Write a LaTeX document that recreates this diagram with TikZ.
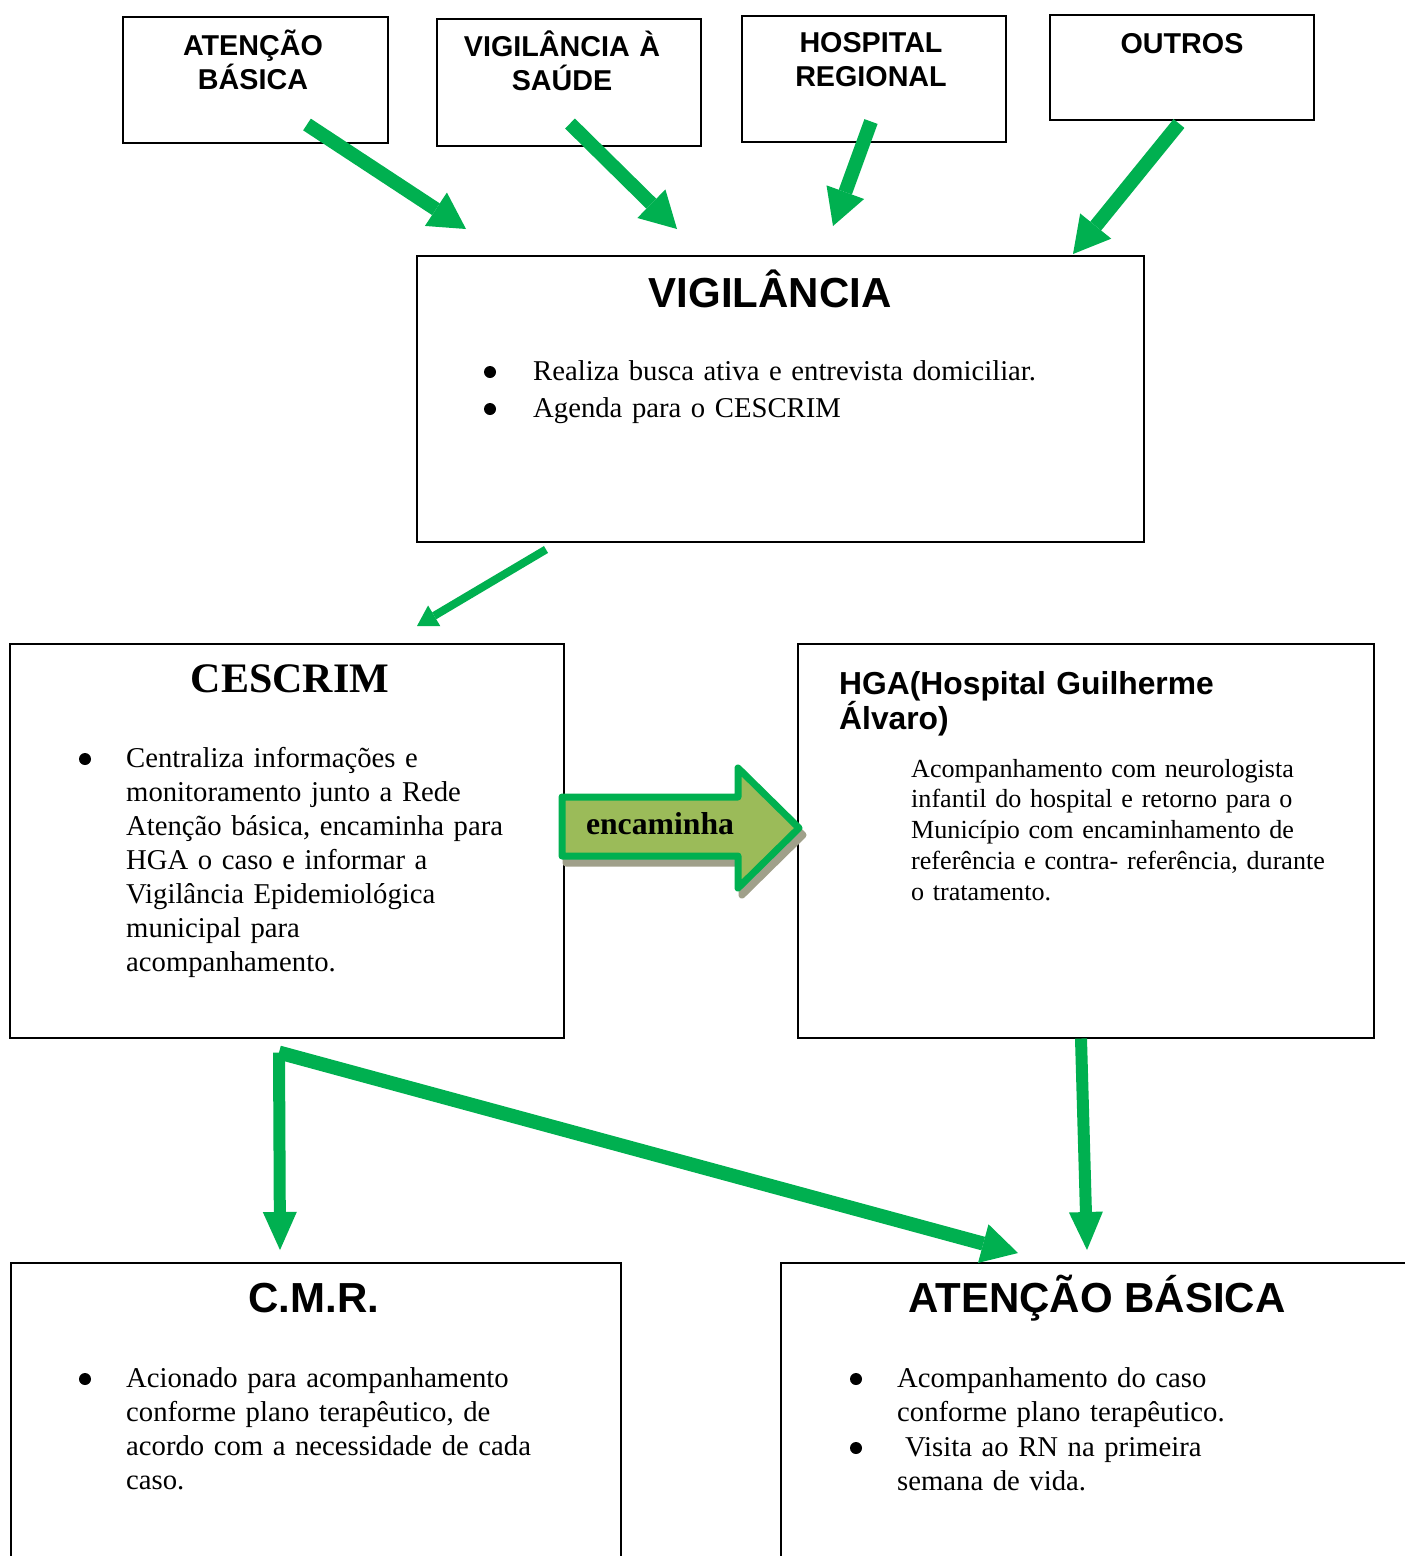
\documentclass[tikz,border=0pt]{standalone}
\usepackage{fontspec}
\setmainfont{Liberation Serif}
\setsansfont{Liberation Sans}
\usepackage{tikz}
\usetikzlibrary{arrows.meta}
\definecolor{vgreen}{HTML}{00B050}
\definecolor{olive}{HTML}{9BBB59}
\definecolor{shadowgray}{RGB}{160,160,138}

\begin{document}
\begin{tikzpicture}[x=1pt,y=-1pt,
  box/.style={draw, line width=1.5pt, anchor=north west, inner sep=0pt},
  toplbl/.style={font=\sffamily\bfseries\fontsize{28.7pt}{34pt}\selectfont, align=center, text width=260pt, inner sep=0pt, anchor=base},
  head/.style={font=\sffamily\bfseries\fontsize{42pt}{48pt}\selectfont, inner sep=0pt, anchor=base},
  shead/.style={font=\bfseries\fontsize{42pt}{48pt}\selectfont, inner sep=0pt, anchor=base},
  hhead/.style={font=\sffamily\bfseries\fontsize{31.8pt}{35pt}\selectfont, align=left, text width=500pt, inner sep=0pt, anchor=base west},
  body/.style={font=\fontsize{28.7pt}{34pt}\selectfont, align=left, text width=600pt, inner sep=0pt, anchor=base west},
  hbody/.style={font=\fontsize{26.1pt}{30.8pt}\selectfont, align=left, text width=600pt, inner sep=0pt, anchor=base west},
  bul/.style={circle, fill=black, inner sep=0pt, minimum size=12pt},
  fat/.style={draw=vgreen, line width=14pt, -{Triangle[length=36pt,width=40pt,line width=0pt]}},
  mid/.style={draw=vgreen, line width=12pt, -{Triangle[length=38pt,width=34pt,line width=0pt]}},
  slim/.style={draw=vgreen, line width=8pt, -{Triangle[length=20pt,width=24pt,line width=0pt]}}]

 \useasboundingbox (0,0) rectangle (1405,1556);
 \clip (0,0) rectangle (1405,1556);

 % top row
 \node[box, minimum width=265pt, minimum height=126pt] (ab) at (122,16) {};
 \node[box, minimum width=264pt, minimum height=127pt] (vs) at (436,18) {};
 \node[box, minimum width=264pt, minimum height=126pt] (hr) at (741,15) {};
 \node[box, minimum width=264pt, minimum height=105pt] (ou) at (1049,14) {};
 \node[toplbl] (ab-t) at ([shift={(131,39)}]ab.north west) {ATENÇÃO\\BÁSICA};
 \node[toplbl] (vs-t) at ([shift={(126,38)}]vs.north west) {VIGILÂNCIA À\\SAÚDE};
 \node[toplbl] (hr-t) at ([shift={(130,37)}]hr.north west) {HOSPITAL\\REGIONAL};
 \node[toplbl] (ou-t) at ([shift={(133,39)}]ou.north west) {OUTROS};

 % vigilancia
 \node[box, minimum width=727pt, minimum height=286pt] (vig) at (416,255) {};
 \node[head] (vig-h) at ([shift={(354,52)}]vig.north west) {VIGILÂNCIA};
 \node[bul] (vig-b1) at ([shift={(74,117)}]vig.north west) {};
 \node[body] (vig-i1) at ([shift={(117,125)}]vig.north west) {Realiza busca ativa e entrevista domiciliar.};
 \node[bul] (vig-b2) at ([shift={(74,154)}]vig.north west) {};
 \node[body] (vig-i2) at ([shift={(117,162)}]vig.north west) {Agenda para o CESCRIM};

 % cescrim and hga
 \node[box, minimum width=554pt, minimum height=394pt] (ces) at (9,643) {};
 \node[shead] (ces-h) at ([shift={(281,49)}]ces.north west) {CESCRIM};
 \node[bul] (ces-b1) at ([shift={(76,116)}]ces.north west) {};
 \node[body] (ces-i1) at ([shift={(117,124)}]ces.north west) {Centraliza informações e\\monitoramento junto a Rede\\Atenção básica, encaminha para\\HGA o caso e informar a\\Vigilância Epidemiológica\\municipal para\\acompanhamento.};

 \node[box, minimum width=576pt, minimum height=394pt] (hga) at (797,643) {};
 \node[hhead] (hga-h) at ([shift={(42,51)}]hga.north west) {HGA(Hospital Guilherme\\Álvaro)};
 \node[hbody] (hga-i1) at ([shift={(114,134)}]hga.north west) {Acompanhamento com neurologista\\infantil do hospital e retorno para o\\Município com encaminhamento de\\referência e contra- referência, durante\\o tratamento.};

 % block arrow
 \filldraw[draw=shadowgray, fill=shadowgray, line width=7pt, line join=round, xshift=4pt, yshift=-7pt]
   (562,797) -- (738,797) -- (738,768) -- (799,828) -- (738,888) -- (738,856) -- (562,856) -- cycle;
 \filldraw[draw=vgreen, fill=olive, line width=7pt, line join=round]
   (562,797) -- (738,797) -- (738,768) -- (799,828) -- (738,888) -- (738,856) -- (562,856) -- cycle;
 \node[font=\bfseries\fontsize{31.7pt}{36pt}\selectfont, inner sep=0pt, anchor=base] (enc) at (660,834) {encaminha};

 % bottom row
 \node[box, minimum width=610pt, minimum height=400pt] (cmr) at (10,1262) {};
 \node[head] (cmr-h) at ([shift={(304,50)}]cmr.north west) {C.M.R.};
 \node[bul] (cmr-b1) at ([shift={(75,117)}]cmr.north west) {};
 \node[body] (cmr-i1) at ([shift={(116,125)}]cmr.north west) {Acionado para acompanhamento\\conforme plano terapêutico, de\\acordo com a necessidade de cada\\caso.};

 \node[box, minimum width=700pt, minimum height=400pt] (abb) at (780,1262) {};
 \node[head] (abb-h) at ([shift={(317,50)}]abb.north west) {ATENÇÃO BÁSICA};
 \node[bul] (abb-b1) at ([shift={(76,117)}]abb.north west) {};
 \node[body] (abb-i1) at ([shift={(117,125)}]abb.north west) {Acompanhamento do caso\\conforme plano terapêutico.};
 \node[bul] (abb-b2) at ([shift={(76,186)}]abb.north west) {};
 \node[body] (abb-i2) at ([shift={(117,194)}]abb.north west) {\hspace*{8pt}Visita ao RN na primeira\\semana de vida.};

 % the arrows
 \draw[fat] ([shift={(185,-19)}]ab.south west) -- ([shift={(50,-26)}]vig.north west);
 \draw[fat] ([shift={(134,-23)}]vs.south west) -- ([shift={(261,-26)}]vig.north west);
 \draw[fat] ([shift={(130,-21)}]hr.south west) -- ([shift={(417,-29)}]vig.north west);
 \draw[fat] ([shift={(130,3)}]ou.south west) -- ([shift={(657,-1)}]vig.north west);
 \draw[slim] ([shift={(130,7)}]vig.south west) -- ([shift={(408,-17)}]ces.north west);

 \coordinate (split) at ([shift={(270,14)}]ces.south west);
 \draw[mid] (split) -- ([shift={(270,-12)}]cmr.north west);
 \draw[fat] (split) -- ([shift={(238,-9)}]abb.north west);
 \draw[mid] ([shift={(284,0)}]hga.south west) -- ([shift={(307,-12)}]abb.north west);

\end{tikzpicture}
\end{document}
